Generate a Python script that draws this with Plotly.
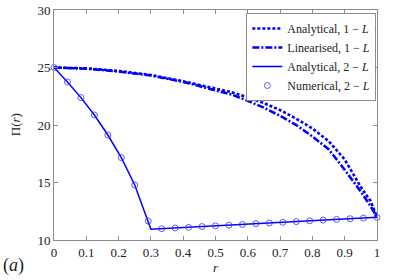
import plotly.graph_objects as go

# Analytical, 1-L
r_a1 = [0, 0.1, 0.2, 0.3, 0.4, 0.5, 0.55, 0.6, 0.65, 0.7, 0.75, 0.8, 0.85, 0.9, 0.95, 0.98, 1.0]
p_a1 = [25.0, 24.92, 24.7, 24.35, 23.8, 23.2, 22.85, 22.4, 21.9, 21.3, 20.55, 19.7, 18.6, 17.0, 14.6, 13.4, 12.0]

# Linearised, 1-L
r_l1 = [0, 0.1, 0.2, 0.3, 0.4, 0.5, 0.55, 0.6, 0.65, 0.7, 0.75, 0.8, 0.85, 0.9, 0.95, 0.98, 1.0]
p_l1 = [25.0, 24.9, 24.65, 24.3, 23.75, 23.05, 22.65, 22.1, 21.5, 20.8, 20.0, 19.0, 17.9, 16.1, 14.2, 12.95, 12.0]

# Analytical, 2-L
r_a2 = [0, 1/24, 2/24, 3/24, 4/24, 5/24, 6/24, 7/24, 0.3, 1.0]
p_a2 = [25.0, 23.74, 22.38, 20.87, 19.13, 17.16, 14.78, 11.65, 10.93, 11.97]

# Numerical, 2-L
r_n2 = [k / 24 for k in range(25)]
p_n2 = [25.0, 23.74, 22.38, 20.87, 19.13, 17.16, 14.78, 11.65,
        10.98, 11.04, 11.1, 11.17, 11.23, 11.29, 11.35, 11.42, 11.48,
        11.54, 11.6, 11.67, 11.73, 11.79, 11.85, 11.91, 11.97]

x_ticks = [0, 0.1, 0.2, 0.3, 0.4, 0.5, 0.6, 0.7, 0.8, 0.9, 1.0]
x_labels = ["0", "0.1", "0.2", "0.3", "0.4", "0.5", "0.6", "0.7", "0.8", "0.9", "1"]
y_ticks = [10, 15, 20, 25, 30]

BLUE = "#0000ff"
FONT = "Liberation Serif, DejaVu Serif, serif"
TXT = "#222"

fig = go.Figure()
fig.add_trace(go.Scatter(x=r_a1, y=p_a1, mode="lines", name="Analytical, 1 − <i>L</i>",
                         line=dict(color=BLUE, width=2.6, dash="3px,2px")))
fig.add_trace(go.Scatter(x=r_l1, y=p_l1, mode="lines", name="Linearised, 1 − <i>L</i>",
                         line=dict(color=BLUE, width=2.6, dash="7px,2px,2px,2px")))
fig.add_trace(go.Scatter(x=r_a2, y=p_a2, mode="lines", name="Analytical, 2 − <i>L</i>",
                         line=dict(color=BLUE, width=1.5)))
fig.add_trace(go.Scatter(x=r_n2, y=p_n2, mode="markers", name="Numerical, 2 − <i>L</i>",
                         cliponaxis=False,
                         marker=dict(symbol="circle-open", size=6, color="rgba(40,40,255,0.75)",
                                     line=dict(width=1))))

axis_common = dict(showline=True, linecolor="#8c8c8c", linewidth=1, mirror="ticks",
                   ticks="inside", ticklen=4, tickcolor="#8c8c8c", showgrid=False,
                   zeroline=False, automargin=False,
                   tickfont=dict(family=FONT, size=13, color=TXT))

fig.update_xaxes(range=[0, 1], tickvals=x_ticks, ticktext=x_labels, **axis_common)
fig.update_yaxes(range=[10, 30], tickvals=y_ticks, **axis_common)

fig.update_layout(
    width=395, height=280,
    margin=dict(l=54, r=18, t=10, b=40, autoexpand=False),
    plot_bgcolor="white", paper_bgcolor="white",
    font=dict(family=FONT, size=13, color=TXT),
    showlegend=True,
    legend=dict(x=0.998, y=0.987, xanchor="right", yanchor="top",
                bgcolor="white", bordercolor="#8c8c8c", borderwidth=1,
                font=dict(family=FONT, size=12, color=TXT),
                itemwidth=30, tracegroupgap=0),
    annotations=[
        dict(text="<i>r</i>", xref="paper", yref="paper", x=0.5, y=-0.078,
             xanchor="center", yanchor="top", showarrow=False,
             font=dict(family=FONT, size=13, color=TXT)),
        dict(text="Π(<i>r</i>)", xref="paper", y=0.5, yref="paper", x=-0.12,
             xanchor="center", yanchor="middle", textangle=-90, showarrow=False,
             font=dict(family=FONT, size=13, color=TXT)),
        dict(text="(<i>a</i>)", xref="paper", yref="paper", x=-0.165, y=-0.055,
             xanchor="left", yanchor="top", showarrow=False,
             font=dict(family=FONT, size=18, color=TXT)),
    ],
)

fig.write_html("out.html", config={"displayModeBar": False},
               post_script="document.body.style.margin='0';document.body.style.padding='0';")
